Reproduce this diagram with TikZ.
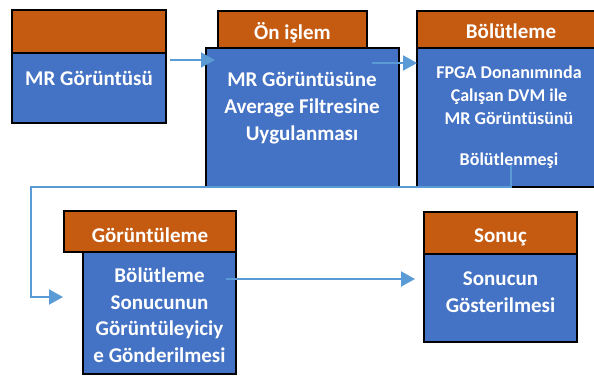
\documentclass[tikz,border=0pt]{standalone}
\usepackage{fontspec}
\setmainfont{Carlito}
\usetikzlibrary{arrows.meta}
\definecolor{hdrorange}{HTML}{C55A11}
\definecolor{bodyblue}{HTML}{4472C4}
\definecolor{linkblue}{HTML}{5B9BD5}
\tikzset{
  boxbase/.style={draw=black, line width=2pt, inner sep=0pt, outer sep=0pt, rectangle},
  hdr/.style={boxbase, fill=hdrorange},
  bodybox/.style={boxbase, fill=bodyblue},
  txt/.style={text=white, font=\bfseries\fontsize{21}{26.7}\selectfont, align=center, anchor=base, inner sep=0pt},
  smalltxt/.style={txt, font=\bfseries\fontsize{18}{23}\selectfont},
  link/.style={draw=linkblue, line width=2pt},
  arrowlink/.style={link, -{Triangle[length=14pt,width=15pt]}}
}
\begin{document}
\begin{tikzpicture}[x=1pt,y=-1pt]
\useasboundingbox (0,0) rectangle (594,376);
% Box 1
\node[hdr, minimum width=154pt, minimum height=43pt] (h1) at (89,31.5) {};
\node[bodybox, minimum width=154pt, minimum height=70pt] (b1) at (89,88) {};
\node[txt] (t1) at (89,85) {MR Görüntüsü};
% Box 2
\node[bodybox, minimum width=193pt, minimum height=139pt] (b2) at (302.5,117.5) {};
\node[hdr, minimum width=149pt, minimum height=37pt] (h2) at (292.5,29.5) {};
\node[txt] (ht2) at (292.5,39) {Ön işlem};
\node[txt] (t2) at (302,140) {MR Görüntüsüne\\Average Filtresine\\Uygulanması};
% Box 3
\node[bodybox, minimum width=189pt, minimum height=139pt] (b3) at (511.5,117.5) {};
\node[hdr, minimum width=189pt, minimum height=37pt] (h3) at (511.5,29.5) {};
\node[txt] (ht3) at (511,38) {Bölütleme};
\node[smalltxt] (t3) at (509,165) {FPGA Donanımında\\Çalışan DVM ile\\MR Görüntüsünü\\[18pt]Bölütlenmeşi};
% Box 4
\node[bodybox, minimum width=153pt, minimum height=122pt] (b4) at (159.5,313) {};
\node[hdr, minimum width=172pt, minimum height=41pt] (h4) at (150,231.5) {};
\node[txt] (ht4) at (150,242) {Görüntüleme};
\node[txt] (t4) at (159.5,362.5) {Bölütleme\\Sonucunun\\Görüntüleyiciy\\e Gönderilmesi};
% Box 5
\node[bodybox, minimum width=153pt, minimum height=88pt] (b5) at (500.5,298) {};
\node[hdr, minimum width=153pt, minimum height=42pt] (h5) at (500.5,233) {};
\node[txt] (ht5) at (500.5,242) {Sonuç};
\node[txt] (t5) at (500.5,312) {Sonucun\\Gösterilmesi};
% connector end points
\coordinate (a1s) at (170,60);
\coordinate (a1e) at (215,60);
\coordinate (a2s) at (372,63);
\coordinate (a2e) at (417,63);
\coordinate (a3s) at (511,165);
\coordinate (a3a) at (511,187);
\coordinate (a3b) at (31,187);
\coordinate (a3c) at (31,297);
\coordinate (a3e) at (63,297);
\coordinate (a4s) at (226,279);
\coordinate (a4e) at (415,279);
% connectors
\draw[arrowlink] (a1s) -- (a1e);
\draw[arrowlink] (a2s) -- (a2e);
\draw[arrowlink] (a3s) -- (a3a) -- (a3b) -- (a3c) -- (a3e);
\draw[arrowlink] (a4s) -- (a4e);
\end{tikzpicture}
\end{document}
